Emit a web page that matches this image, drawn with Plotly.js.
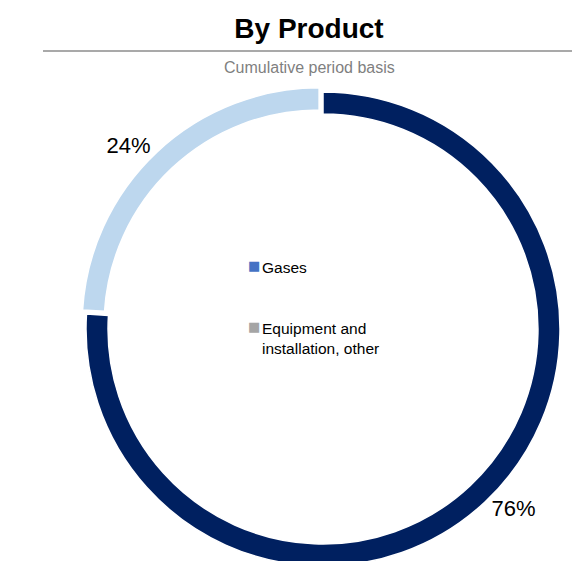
<!DOCTYPE html>
<html>
<head>
<meta charset="utf-8">
<script src="https://cdn.plot.ly/plotly-3.0.1.min.js"></script>
<style>
  html, body { margin: 0; padding: 0; overflow: hidden; background: #ffffff; }
  #chart { width: 587px; height: 600px; }
</style>
</head>
<body>
<div id="chart"></div>
<script>
// ---- data ----
const categories = ['Gases', 'Equipment and installation, other'];
const shares = [76, 24];
const sliceColors = ['#002060', '#BDD7EE'];
const legendLabels = ['Gases', 'Equipment and<br>installation, other'];
const legendColors = ['#4472C4', '#A5A5A5'];
const chartTitle = 'By Product';
const chartSubtitle = 'Cumulative period basis';

// ---- layout helpers ----
const W = 587, H = 600;
const px = x => x / W;
const py = y => 1 - y / H;

const cx = 323, cy = 329, R = 237, pull = 0.024;
const half = R * (1 + pull);

const trace = {
  type: 'pie',
  labels: categories,
  values: shares,
  sort: false,
  direction: 'clockwise',
  rotation: 0,
  hole: 0.907,
  pull: [0, pull],
  marker: { colors: sliceColors, line: { color: '#ffffff', width: 1.5 } },
  textinfo: 'percent',
  textposition: 'outside',
  textfont: { family: 'Arial, Liberation Sans, sans-serif', size: 22, color: '#000000' },
  showlegend: false,
  hoverinfo: 'none',
  domain: { x: [px(cx - half), px(cx + half)], y: [py(cy + half), py(cy - half)] }
};

const annotations = [
  {
    text: chartSubtitle, xref: 'paper', yref: 'paper', x: px(309), y: py(67),
    xanchor: 'center', yanchor: 'middle', showarrow: false,
    font: { family: 'Arial, Liberation Sans, sans-serif', size: 16, color: '#7F7F7F' }
  }
];
const legendY = [266, 327];
legendLabels.forEach((lab, i) => {
  annotations.push({
    text: '■', xref: 'paper', yref: 'paper', x: px(253.5), y: py(legendY[i] - 0.5),
    xanchor: 'center', yanchor: 'middle', showarrow: false,
    font: { family: 'DejaVu Sans, sans-serif', size: 13, color: legendColors[i] }
  });
  annotations.push({
    text: lab, xref: 'paper', yref: 'paper', x: px(260), y: py(legendY[i] - 9.5),
    xanchor: 'left', yanchor: 'top', align: 'left', showarrow: false,
    font: { family: 'Arial, Liberation Sans, sans-serif', size: 15.5, color: '#000000' }
  });
});

const layout = {
  width: W, height: H,
  margin: { l: 0, r: 0, t: 0, b: 0, pad: 0 },
  paper_bgcolor: '#ffffff',
  plot_bgcolor: '#ffffff',
  title: {
    text: '<b>' + chartTitle + '</b>',
    font: { family: 'Arial, Liberation Sans, sans-serif', size: 28, color: '#000000' },
    xref: 'paper', yref: 'paper', x: px(309), y: py(28), xanchor: 'center', yanchor: 'middle'
  },
  shapes: [
    { type: 'line', xref: 'paper', yref: 'paper', x0: px(43), x1: px(572), y0: py(51), y1: py(51),
      line: { color: '#8C8C8C', width: 1.5 } }
  ],
  annotations: annotations
};

Plotly.newPlot('chart', [trace], layout, { displayModeBar: false, staticPlot: true });
</script>
</body>
</html>
